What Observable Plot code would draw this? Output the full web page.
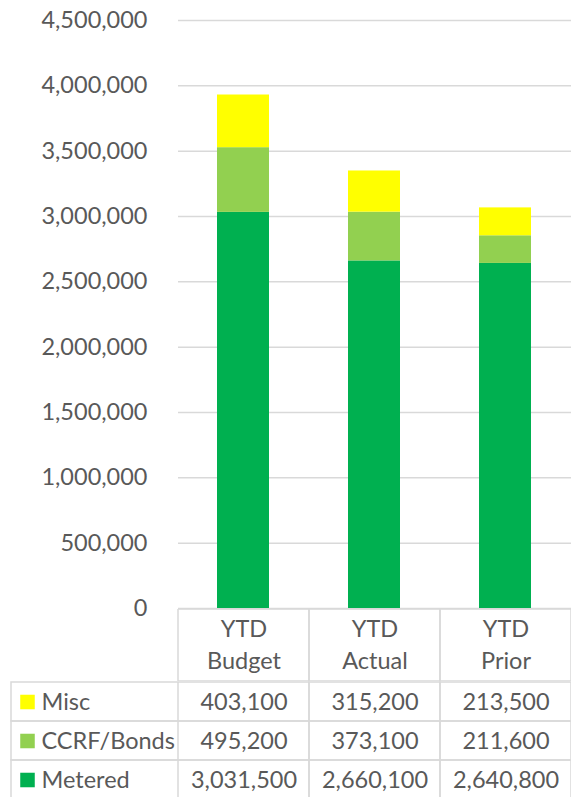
<!DOCTYPE html>
<html>
<head>
<meta charset="utf-8">
<script src="https://cdn.jsdelivr.net/npm/d3@7"></script>
<script src="https://cdn.jsdelivr.net/npm/@observablehq/plot@0.6"></script>
<style>
  html, body { margin: 0; padding: 0; background: white; }
  svg { display: block; }
  #chart { position: relative; z-index: 2; height: 609px; }
  #header { position: relative; z-index: 1; }
  #row { display: flex; }
</style>
</head>
<body>
<div id="chart"></div>
<div id="header"></div>
<div id="row"><div id="labels"></div><div id="values"></div></div>
<script>
const categories = ["YTD Budget", "YTD Actual", "YTD Prior"];
const seriesNames = ["Metered", "CCRF/Bonds", "Misc"];          // bottom to top
const seriesColors = ["#00B050", "#92D050", "#FFFF00"];
const metered = [3031500, 2660100, 2640800];
const ccrf = [495200, 373100, 211600];
const misc = [403100, 315200, 213500];
const yTicks = [0, 500000, 1000000, 1500000, 2000000, 2500000, 3000000, 3500000, 4000000, 4500000];
const tableRows = ["Misc", "CCRF/Bonds", "Metered"];              // table order, top to bottom

const valuesBySeries = {"Metered": metered, "CCRF/Bonds": ccrf, "Misc": misc};
const data = [];
for (const s of seriesNames) {
  categories.forEach((c, i) => data.push({cat: c, series: s, value: valuesBySeries[s][i]}));
}

const fmt = d3.format(",");
const font = "Lato, 'Noto Sans', sans-serif";
const textColor = "#595959";
const lineColor = "#d9d9d9";
const colorScale = {domain: seriesNames, range: seriesColors};
const fs = 23.5;

const chart = Plot.plot({
  width: 571, height: 609,
  marginLeft: 178, marginRight: 0, marginTop: 20, marginBottom: 1,
  style: {fontFamily: font, fontSize: fs + "px", color: textColor, background: "transparent", overflow: "visible"},
  x: {domain: categories, paddingInner: 0.6, paddingOuter: 0.3, axis: null},
  y: {domain: [0, 4500000], axis: null, label: null},
  color: colorScale,
  marks: [
    Plot.gridY(yTicks, {stroke: lineColor, strokeOpacity: 1, strokeWidth: 1.5}),
    Plot.axisY(yTicks, {tickSize: 0, tickPadding: 31, tickFormat: fmt, fontSize: fs, fill: textColor, label: null}),
    Plot.barY(data, Plot.stackY({x: "cat", y: "value", fill: "series"}))
  ]
});
document.getElementById("chart").append(chart);

const header = Plot.plot({
  width: 571, height: 72,
  marginLeft: 178, marginRight: 0, marginTop: 0, marginBottom: 0,
  style: {fontFamily: font, fontSize: fs + "px", color: textColor, background: "white"},
  x: {domain: categories, padding: 0, axis: null},
  marks: [
    Plot.cell(categories, {x: d => d, fill: "none", stroke: lineColor, strokeWidth: 1.5, inset: 0}),
    Plot.text(categories, {x: d => d, text: d => d.replace(" ", "\n"), fontSize: fs, fill: textColor, lineHeight: 1.38, dy: -3})
  ]
});
document.getElementById("header").append(header);

const labels = Plot.plot({
  width: 178, height: 119,
  marginLeft: 11, marginRight: 0, marginTop: 0, marginBottom: 0,
  style: {fontFamily: font, fontSize: fs + "px", color: textColor, background: "white"},
  y: {domain: tableRows, padding: 0, axis: null},
  color: colorScale,
  marks: [
    Plot.cell(tableRows, {y: d => d, fill: "none", stroke: lineColor, strokeWidth: 1.5, inset: 0}),
    Plot.dot(tableRows, {y: d => d, fill: d => d, symbol: "square", r: 8.2, frameAnchor: "left", dx: 16}),
    Plot.text(tableRows, {y: d => d, text: d => d, frameAnchor: "left", dx: 30, textAnchor: "start", fontSize: fs, fill: textColor})
  ]
});
document.getElementById("labels").append(labels);

const values = Plot.plot({
  width: 393, height: 119,
  marginLeft: 0, marginRight: 0, marginTop: 0, marginBottom: 0,
  style: {fontFamily: font, fontSize: fs + "px", color: textColor, background: "white"},
  x: {domain: categories, padding: 0, axis: null},
  y: {domain: tableRows, padding: 0, axis: null},
  marks: [
    Plot.cell(data, {x: "cat", y: "series", fill: "none", stroke: lineColor, strokeWidth: 1.5, inset: 0}),
    Plot.text(data, {x: "cat", y: "series", text: d => fmt(d.value), fontSize: fs, fill: textColor})
  ]
});
document.getElementById("values").append(values);
</script>
</body>
</html>
